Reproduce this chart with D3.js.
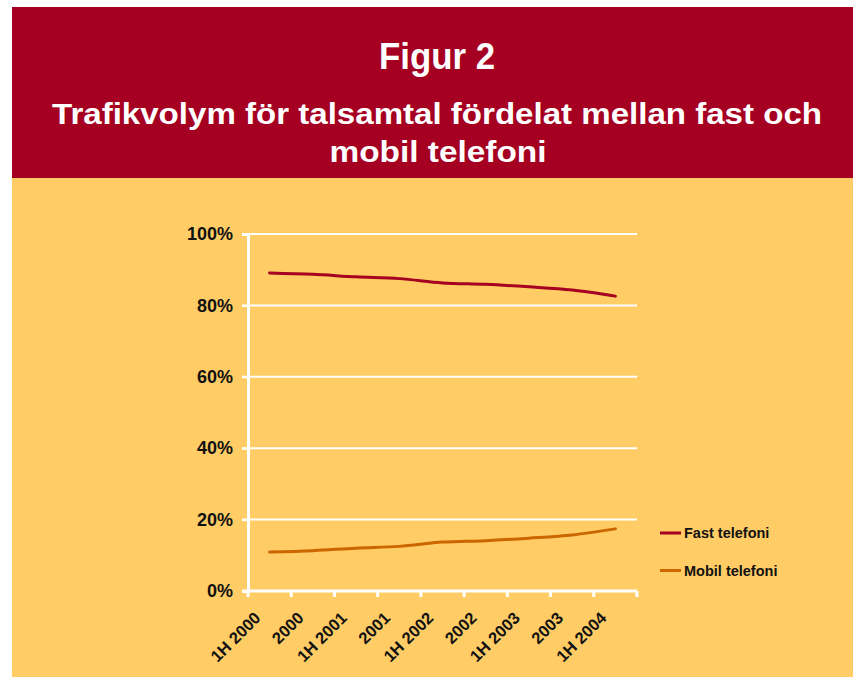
<!DOCTYPE html>
<html>
<head>
<meta charset="utf-8">
<script src="https://cdn.jsdelivr.net/npm/d3@7"></script>
<style>
  body { margin: 0; background: #fff; }
  svg text { font-family: "Liberation Sans", Arial, sans-serif; }
</style>
</head>
<body>
<div id="chart"></div>
<script>
// data
const periods = ["1H 2000", "2000", "1H 2001", "2001", "1H 2002", "2002", "1H 2003", "2003", "1H 2004"];
const fastTelefoni = [89.1, 88.7, 88.0, 87.5, 86.3, 85.9, 85.2, 84.3, 82.6];
const mobilTelefoni = [10.9, 11.3, 12.0, 12.5, 13.7, 14.1, 14.8, 15.7, 17.4];
const yTicks = [0, 20, 40, 60, 80, 100];
const seriesNames = ["Fast telefoni", "Mobil telefoni"];
const seriesColors = ["#A50021", "#CC6600"];

const W = 853, H = 677;
const svg = d3.select("#chart").append("svg")
  .attr("width", W).attr("height", H);

// background panels
svg.append("rect").attr("x", 12).attr("y", 7).attr("width", W - 12).attr("height", 171)
  .attr("fill", "#A50021");
svg.append("rect").attr("x", 12).attr("y", 178).attr("width", W - 12).attr("height", H - 178)
  .attr("fill", "#FFCC66");

// titles
svg.append("text").attr("x", 437).attr("y", 69)
  .attr("text-anchor", "middle").attr("fill", "#fff")
  .attr("font-size", 36).attr("font-weight", "bold")
  .attr("textLength", 116).attr("lengthAdjust", "spacingAndGlyphs")
  .text("Figur 2");
svg.append("text").attr("x", 437).attr("y", 124)
  .attr("text-anchor", "middle").attr("fill", "#fff")
  .attr("font-size", 30).attr("font-weight", "bold")
  .attr("textLength", 770).attr("lengthAdjust", "spacingAndGlyphs")
  .text("Trafikvolym för talsamtal fördelat mellan fast och");
svg.append("text").attr("x", 438).attr("y", 162)
  .attr("text-anchor", "middle").attr("fill", "#fff")
  .attr("font-size", 30).attr("font-weight", "bold")
  .attr("textLength", 217).attr("lengthAdjust", "spacingAndGlyphs")
  .text("mobil telefoni");

// plot area
const plot = { left: 248, right: 637, top: 234, bottom: 591 };

const x = d3.scaleBand().domain(periods).range([plot.left, plot.right]);
const y = d3.scaleLinear().domain([0, 100]).range([plot.bottom, plot.top]);

const g = svg.append("g");

// gridlines
g.selectAll(".grid")
  .data(yTicks.filter(d => d > 0))
  .enter().append("line")
  .attr("class", "grid")
  .attr("x1", plot.left - 6).attr("x2", plot.right)
  .attr("y1", d => y(d)).attr("y2", d => y(d))
  .attr("stroke", "#fff").attr("stroke-width", 2);

// y axis
const yAxis = g.append("g")
  .attr("transform", "translate(" + plot.left + ",0)")
  .call(d3.axisLeft(y).tickValues(yTicks).tickFormat(d => d + "%").tickSize(6).tickPadding(9));
yAxis.select(".domain").attr("stroke", "#fff").attr("stroke-width", 3);
yAxis.selectAll(".tick line").attr("stroke", "#fff").attr("stroke-width", 2);
yAxis.selectAll(".tick text")
  .attr("fill", "#111").attr("font-size", 18).attr("font-weight", "bold")
  .style("font-family", "'Liberation Sans', Arial, sans-serif");

// x axis
const xAxis = g.append("g")
  .attr("transform", "translate(0," + plot.bottom + ")");
xAxis.append("line")
  .attr("x1", plot.left - 6).attr("x2", plot.right)
  .attr("stroke", "#fff").attr("stroke-width", 3);
xAxis.selectAll(".xtick")
  .data(periods.concat(["end"]))
  .enter().append("line")
  .attr("class", "xtick")
  .attr("x1", (d, i) => i < periods.length ? x(d) : plot.right)
  .attr("x2", (d, i) => i < periods.length ? x(d) : plot.right)
  .attr("y1", 0).attr("y2", 6)
  .attr("stroke", "#fff").attr("stroke-width", 3);
xAxis.selectAll(".xlabel")
  .data(periods)
  .enter().append("text")
  .attr("class", "xlabel")
  .attr("text-anchor", "end")
  .attr("transform", d => "translate(" + (x(d) + x.bandwidth() / 2 - 8) + ",28) rotate(-45)")
  .attr("fill", "#111").attr("font-size", 16.5).attr("font-weight", "bold")
  .text(d => d);

// lines
const line = d3.line()
  .x((d, i) => x(periods[i]) + x.bandwidth() / 2)
  .y(d => y(d))
  .curve(d3.curveMonotoneX);

[fastTelefoni, mobilTelefoni].forEach((s, i) => {
  g.append("path")
    .datum(s)
    .attr("d", line)
    .attr("fill", "none")
    .attr("stroke", seriesColors[i])
    .attr("stroke-width", 3)
    .attr("stroke-linecap", "round");
});

// legend
const legend = svg.append("g").attr("transform", "translate(660,533)");
seriesNames.forEach((name, i) => {
  const row = legend.append("g").attr("transform", "translate(0," + i * 37.5 + ")");
  row.append("line").attr("x1", 0).attr("x2", 21)
    .attr("stroke", seriesColors[i]).attr("stroke-width", 3);
  row.append("text").attr("x", 24).attr("y", 5)
    .attr("fill", "#111").attr("font-size", 14.5).attr("font-weight", "bold")
    .text(name);
});
</script>
</body>
</html>
